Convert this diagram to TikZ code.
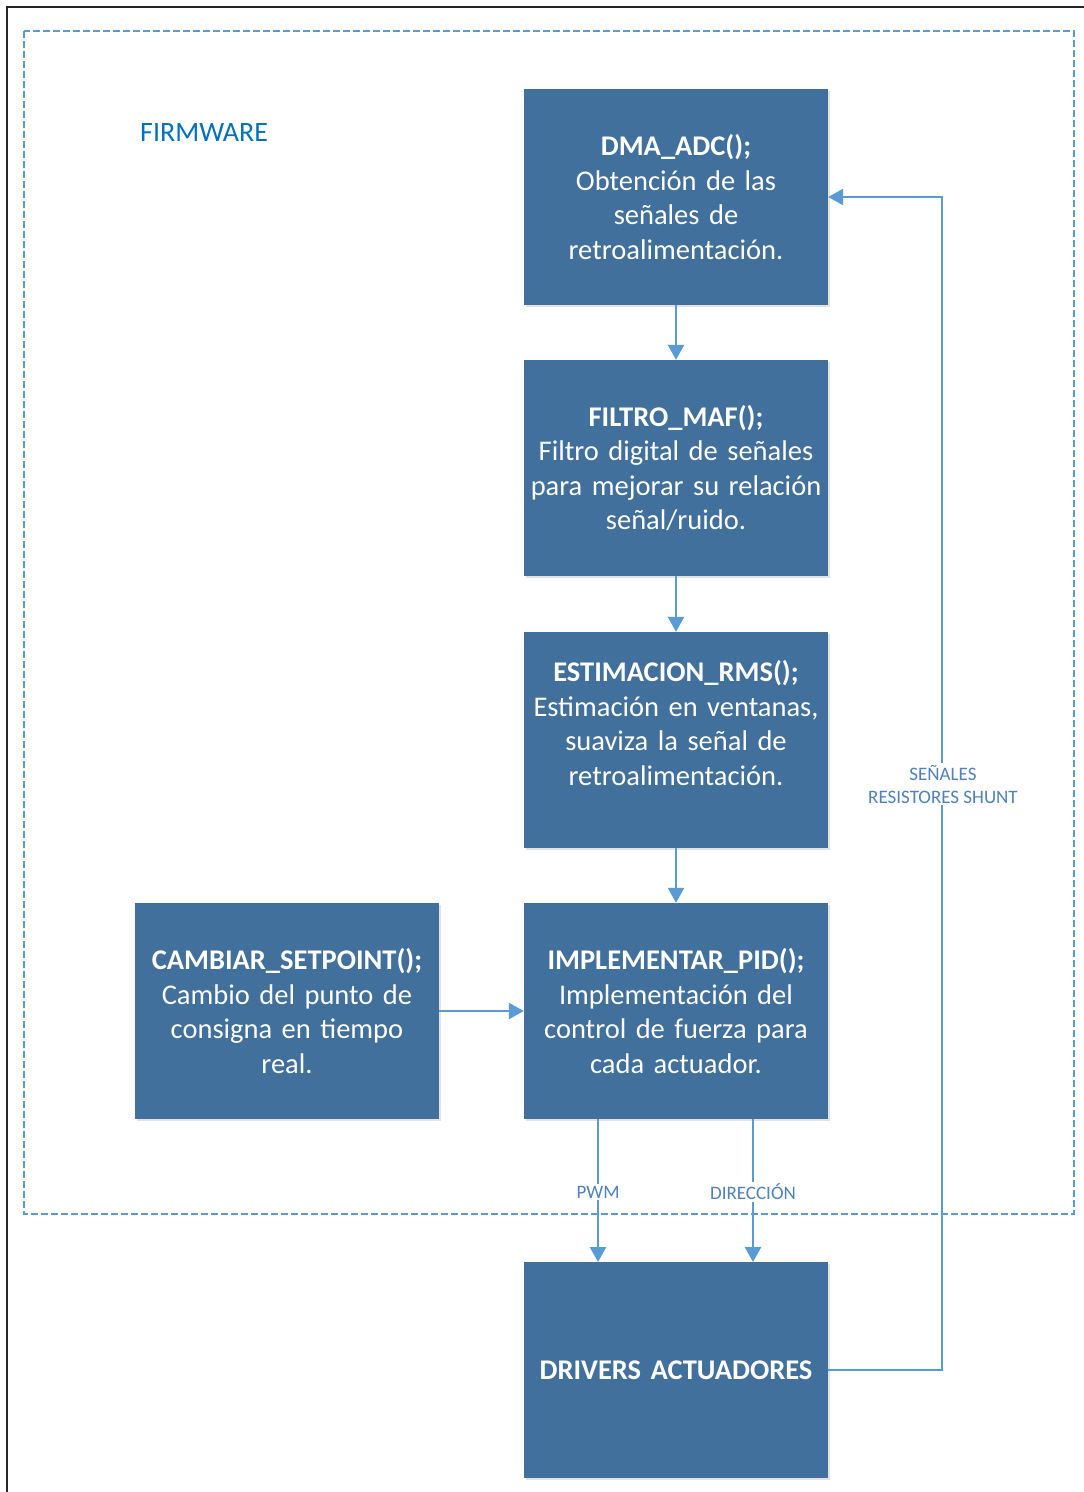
\documentclass[tikz,border=0pt]{standalone}
\usepackage{fontspec}
\setmainfont{Carlito}
\usetikzlibrary{arrows.meta,shadows}
\definecolor{boxfill}{RGB}{65,112,156}
\definecolor{arrowc}{RGB}{91,155,213}
\definecolor{fwblue}{RGB}{0,112,192}
\definecolor{lblc}{RGB}{79,129,189}
\definecolor{dashc}{RGB}{91,155,213}
\tikzset{
  blk/.style={fill=boxfill, minimum width=304pt, minimum height=216pt, text width=300pt,
    align=center, text=white, inner sep=0pt, font=\fontsize{28.5}{34.5}\selectfont,
    drop shadow={shadow xshift=1.5pt, shadow yshift=-2pt, opacity=0.18, fill=black!60}},
  conn/.style={draw=arrowc, line width=2.4pt, -{Triangle[length=15pt,width=16pt]}},
  lbl/.style={fill=white, text=lblc, align=center, inner sep=2pt, font=\fontsize{19}{23}\selectfont},
}
\begin{document}
\begin{tikzpicture}[x=1pt,y=-1pt]
\useasboundingbox (0,0) rectangle (1084,1492);
\fill[white] (0,0) rectangle (1084,1492);
% outer frame (cropped)
\draw[line width=1.3pt, black!85] (7,1492) -- (7,7) -- (1084,7);
% firmware dashed frame
\draw[dashc, line width=1.1pt, dash pattern=on 7pt off 3pt] (24,31) rectangle (1074,1214);
\node[text=fwblue, font=\fontsize{28}{34}\selectfont, anchor=west, inner sep=0pt] (fw) at (140,133) {FIRMWARE};

\node[blk] (dma) at (676,197) {\textbf{DMA\_ADC();}\\Obtención de las\\señales de\\retroalimentación.};
\node[blk] (maf) at (676,468) {\textbf{FILTRO\_MAF();}\\Filtro digital de señales\\para mejorar su relación\\señal/ruido.};
\node[blk] (rms) at (676,740) {\textbf{ESTIMACION\_RMS();}\\Estimación en ventanas,\\suaviza la señal de\\retroalimentación.\\\mbox{}};
\node[blk] (pid) at (676,1011) {\textbf{IMPLEMENTAR\_PID();}\\Implementación del\\control de fuerza para\\cada actuador.};
\node[blk] (set) at (287,1011) {\textbf{CAMBIAR\_SETPOINT();}\\Cambio del punto de\\consigna en tiempo\\real.};
\node[blk] (drv) at (676,1370) {\textbf{DRIVERS ACTUADORES}};

\draw[conn] (dma) -- (maf);
\draw[conn] (maf) -- (rms);
\draw[conn] (rms) -- (pid);
\draw[conn] (set) -- (pid);

\coordinate (pwmA) at (598,1119);
\coordinate (pwmB) at (598,1262);
\coordinate (dirA) at (753,1119);
\coordinate (dirB) at (753,1262);
\draw[conn] (pwmA) -- node[lbl, pos=0.51] (pwm) {PWM} (pwmB);
\draw[conn] (dirA) -- node[lbl, pos=0.51] (dir) {DIRECCIÓN} (dirB);

\coordinate (fbA) at (942,1370);
\coordinate (fbB) at (942,197);
\draw[conn] (drv.east) -- (fbA) -- (fbB) -- (dma.east);
\node[lbl] (shunt) at (943,784) {SEÑALES\\RESISTORES SHUNT};
\end{tikzpicture}
\end{document}
